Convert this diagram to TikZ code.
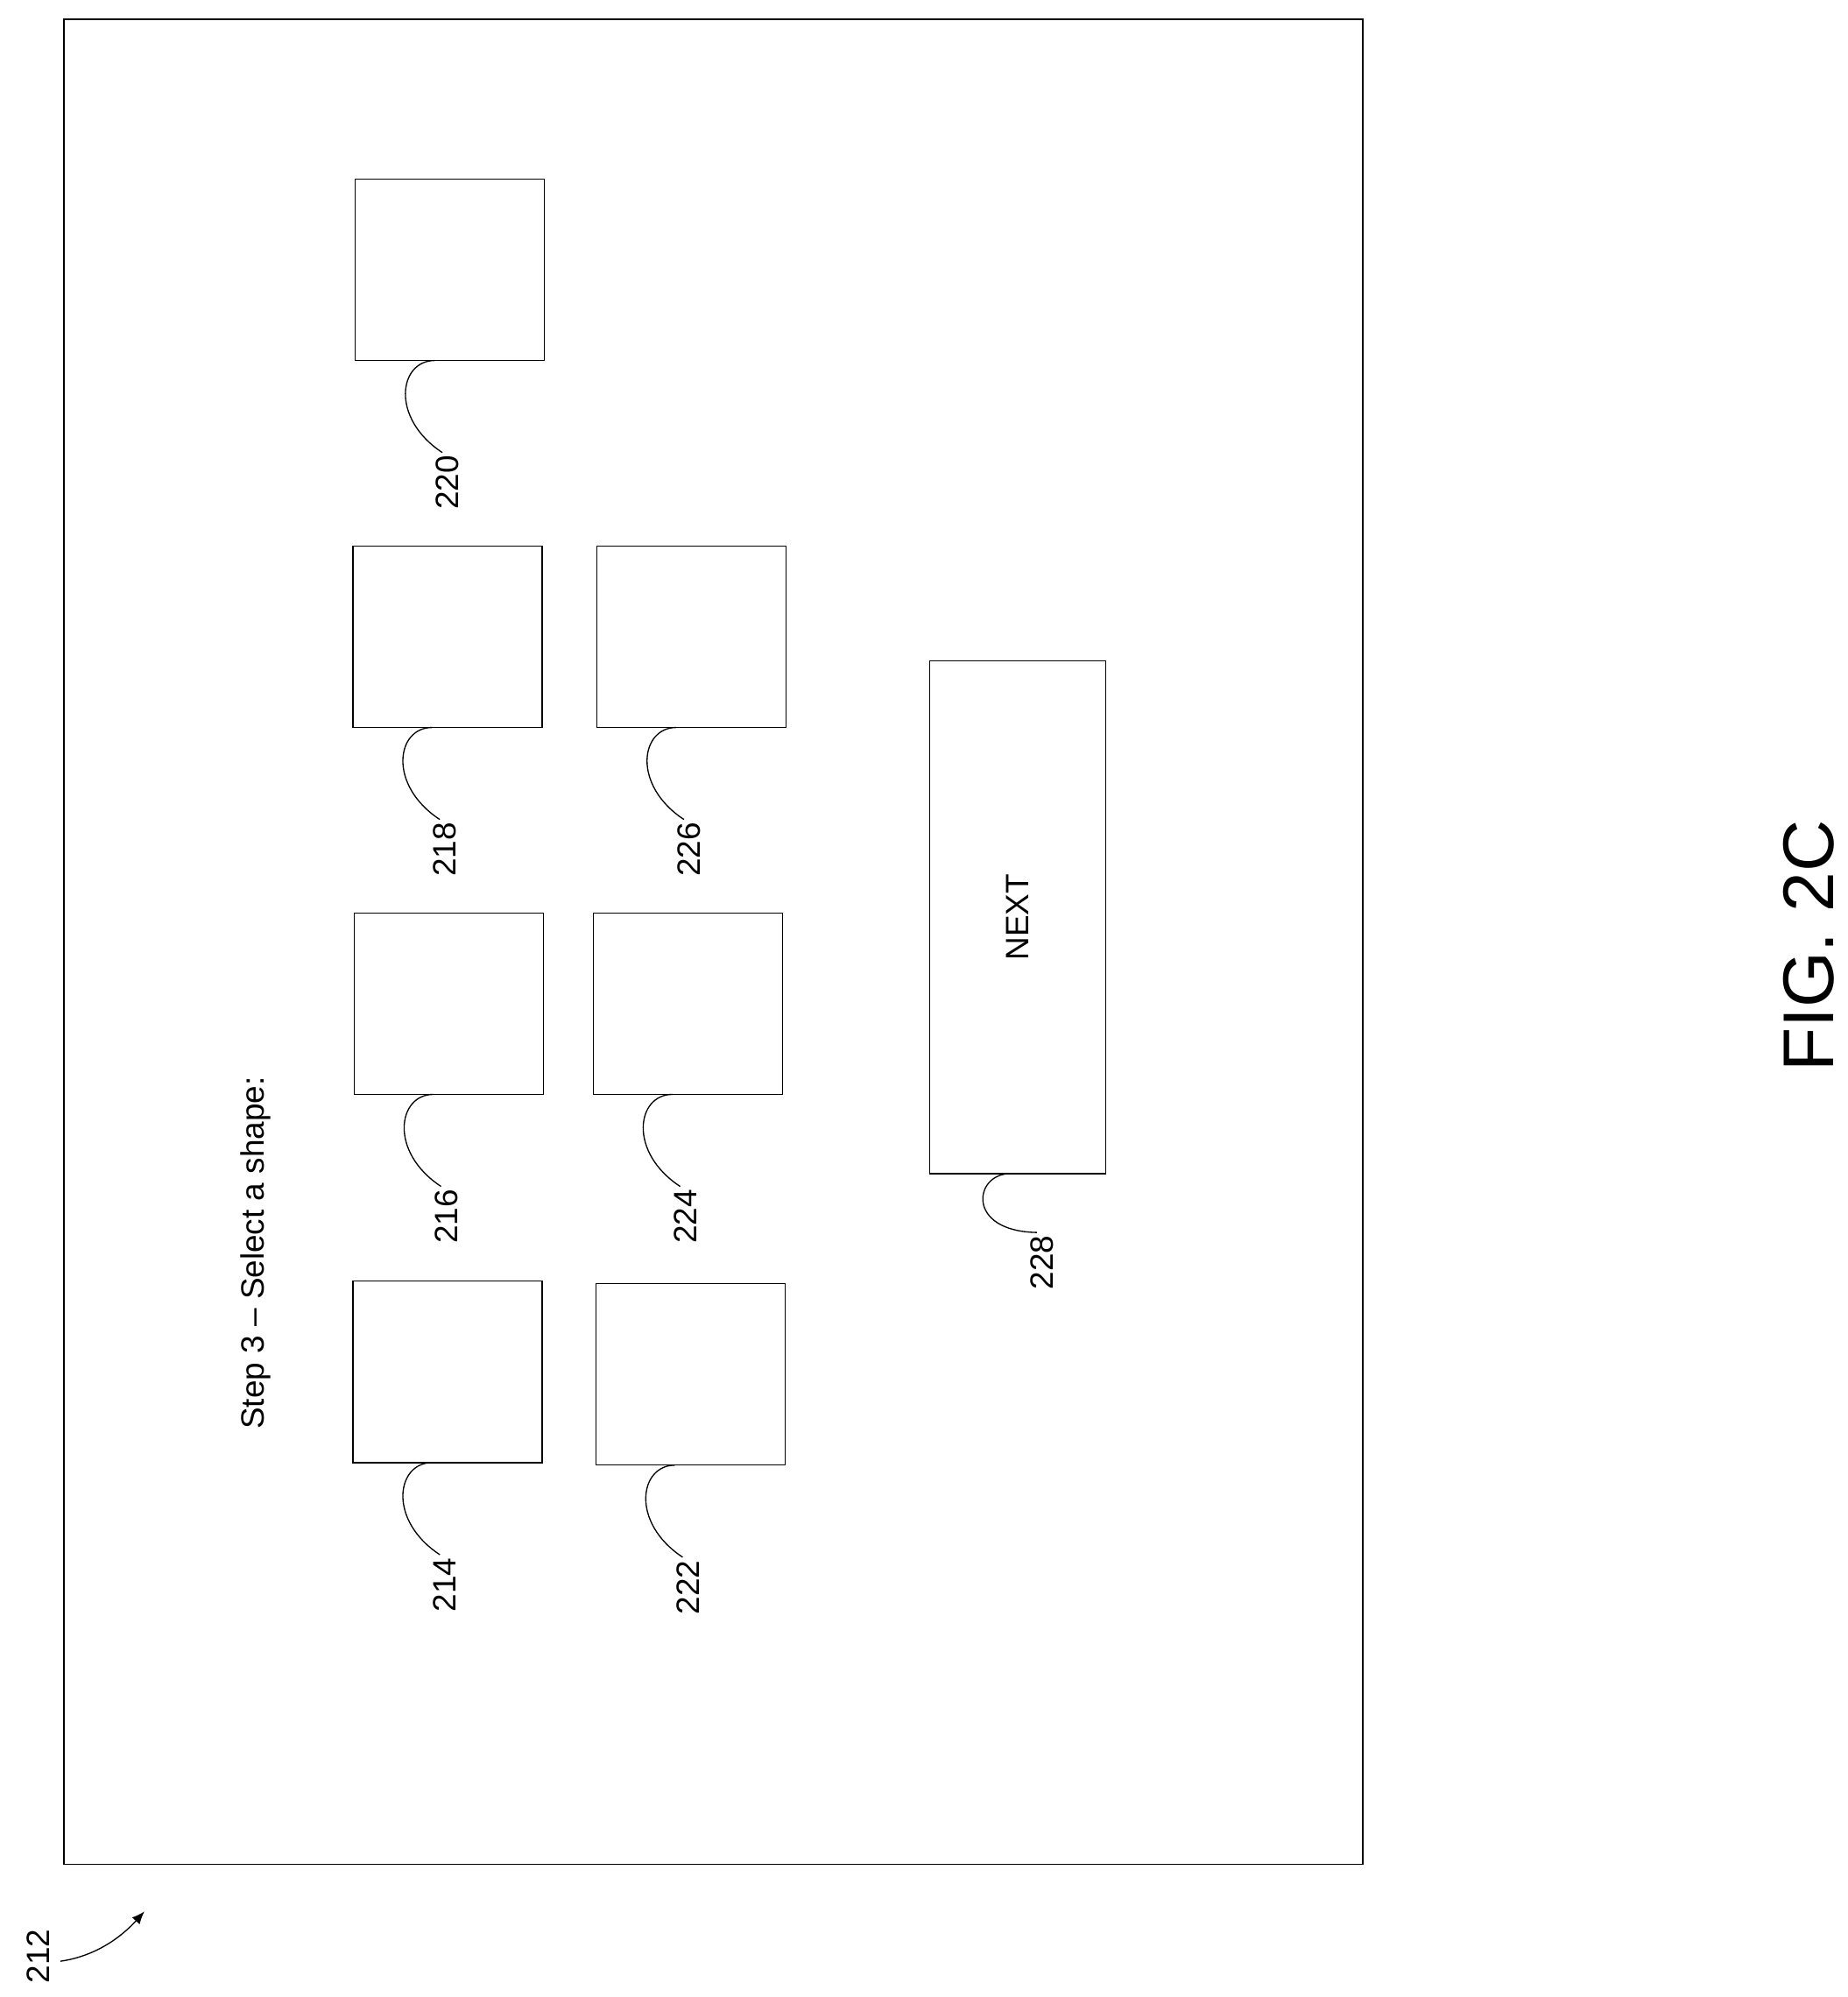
\documentclass[tikz,border=0pt]{standalone}
\usepackage{fontspec}
\setmainfont{Liberation Sans}
\usetikzlibrary{arrows.meta}
\usetikzlibrary{calc}
\begin{document}
\begin{tikzpicture}[x=0.05cm,y=-0.05cm,line width=1.3pt,
    refnum/.style={rotate=90,anchor=east,inner sep=0pt,font=\fontsize{36}{40}\selectfont},
    shapebox/.style={draw,minimum width=7.4cm,minimum height=7.1cm,inner sep=0pt,outer sep=0pt,anchor=north west}]
    \useasboundingbox (0,0) rectangle (1445,1562);

    %--- FRAME ------------------------------
    \draw (50,15) rectangle (1066,1458);
    \node[rotate=90,font=\fontsize{36}{40}\selectfont] (step) at (200,980) {Step 3 -- Select a shape:};

    %--- SHAPE BOXES AND LEADERS ------------
    \foreach \n/\x/\y in {220/278/140, 218/276/427, 216/277/714, 214/276/1002,
                          226/467/427, 224/464/714, 222/466/1004}{
        \node[shapebox] (box\n) at (\x,\y) {};
        \node[refnum] (lab\n) at ($(box\n.south west)+(72,74)$) {\n};
        \coordinate (lead\n) at ($(box\n.south west)+(62,0)$);
        \draw (lead\n) .. controls ($(lead\n)+(-28,0)$) and ($(lead\n)+(-35,45)$) .. ($(lab\n.east)+(-4,-2)$);
    }

    % Next button
    \node[draw,minimum width=6.9cm,minimum height=20.05cm,inner sep=0pt,outer sep=0pt,anchor=north west] (next) at (727,517) {};
    \node[rotate=90,font=\fontsize{36}{40}\selectfont] at (next.center) {NEXT};
    \node[refnum] (lab228) at (815,966) {228};
    \coordinate (lead228) at (790,918);
    \draw (lead228) .. controls ($(lead228)+(-28,0)$) and ($(lead228)+(-35,45)$) .. ($(lab228.east)+(-4,-2)$);

    %--- FIGURE LABELS ----------------------
    \node[rotate=90,font=\fontsize{80}{90}\selectfont] (fig) at (1415,740) {FIG. 2C};
    \node[refnum,anchor=center] (lab212) at (30,1530) {212};
    \coordinate (tip212) at (113,1495);
    \draw[-{Latex[length=5mm,width=4mm]}] ($(lab212.south)+(8,4)$) .. controls (75,1530) and (95,1515) .. (tip212);
\end{tikzpicture}
\end{document}
